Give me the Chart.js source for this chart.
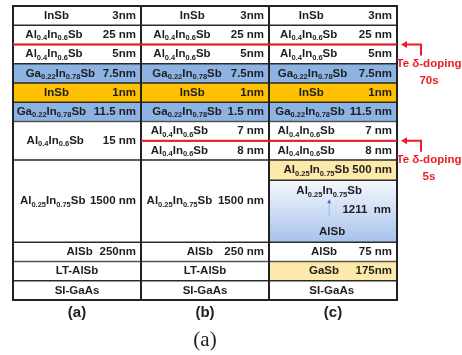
<!DOCTYPE html>
<html>
<head>
<meta charset="utf-8">
<script src="https://cdn.jsdelivr.net/npm/chart.js@4"></script>
<style>
  html, body { margin: 0; background: #fff; }
  #wrap { width: 462px; height: 355px; }
</style>
</head>
<body>
<div id="wrap"><canvas id="stackChart"></canvas></div>
<script>
// samples (columns of the layer stack)
const columns = ["(a)", "(b)", "(c)"];

// layer names, top to bottom ("_{..}" = subscript, "|" = graded top|bottom)
const namesA = ["InSb", "Al_{0.4}In_{0.6}Sb", "Al_{0.4}In_{0.6}Sb", "Ga_{0.22}In_{0.78}Sb", "InSb",
  "Ga_{0.22}In_{0.78}Sb", "Al_{0.4}In_{0.6}Sb", "Al_{0.25}In_{0.75}Sb", "AlSb", "LT-AlSb", "SI-GaAs"];
const namesB = ["InSb", "Al_{0.4}In_{0.6}Sb", "Al_{0.4}In_{0.6}Sb", "Ga_{0.22}In_{0.78}Sb", "InSb",
  "Ga_{0.22}In_{0.78}Sb", "Al_{0.4}In_{0.6}Sb", "Al_{0.4}In_{0.6}Sb", "Al_{0.25}In_{0.75}Sb", "AlSb", "LT-AlSb", "SI-GaAs"];
const namesC = ["InSb", "Al_{0.4}In_{0.6}Sb", "Al_{0.4}In_{0.6}Sb", "Ga_{0.22}In_{0.78}Sb", "InSb",
  "Ga_{0.22}In_{0.78}Sb", "Al_{0.4}In_{0.6}Sb", "Al_{0.4}In_{0.6}Sb", "Al_{0.25}In_{0.75}Sb",
  "Al_{0.25}In_{0.75}Sb|AlSb", "AlSb", "GaSb", "SI-GaAs"];

// layer thickness labels
const thickA = ["3nm", "25 nm", "5nm", "7.5nm", "1nm", "11.5 nm", "15 nm", "1500 nm", "250nm", "", ""];
const thickB = ["3nm", "25 nm", "5nm", "7.5nm", "1nm", "1.5 nm", "7 nm", "8 nm", "1500 nm", "250 nm", "", ""];
const thickC = ["3nm", "25 nm", "5nm", "7.5nm", "1nm", "11.5 nm", "7 nm", "8 nm", "500 nm", "1211  nm", "75 nm", "175nm", ""];

// drawn height of each layer (row units)
const rowsA = [1, 1, 1, 1, 1, 1, 2, 4.27, 1, 1, 1];
const rowsB = [1, 1, 1, 1, 1, 1, 1, 1, 4.27, 1, 1, 1];
const rowsC = [1, 1, 1, 1, 1, 1, 1, 1, 1.05, 3.22, 1, 1, 1];

// Te delta-doping planes: boundary (row units), first column, time
const dopingAt = [2, 7];
const dopingFrom = [0, 1];
const dopingTime = ["70s", "5s"];

// ---- styles ----
const fillA = ["w", "w", "w", "b", "o", "b", "w", "w", "w", "w", "w"];
const fillB = ["w", "w", "w", "b", "o", "b", "w", "w", "w", "w", "w", "w"];
const fillC = ["w", "w", "w", "b", "o", "b", "w", "w", "y", "g", "w", "y", "w"];
const anchorA = [0.34, 0.32, 0.32, 0.37, 0.34, 0.30, 0.33, 0.31, 0.52, 0.5, 0.5];
const anchorB = [0.40, 0.32, 0.32, 0.36, 0.40, 0.36, 0.30, 0.30, 0.30, 0.46, 0.5, 0.5];
const anchorC = [0.33, 0.31, 0.31, 0.34, 0.33, 0.32, 0.29, 0.29, 0.37, 0.47, 0.43, 0.43, 0.49];
const colours = { w: "#ffffff", b: "#8db3e2", o: "#ffc000", y: "#fde9a9" };
const RED = "#ec1c24";
const INK = "#1e1e1e";
const FONT = '"Liberation Sans", Arial, sans-serif';
const MAIN = "bold 11.5px " + FONT;
const SUB = "bold 7.5px " + FONT;

const names = [namesA, namesB, namesC];
const thick = [thickA, thickB, thickC];
const rows = [rowsA, rowsB, rowsC];
const fills = [fillA, fillB, fillC];
const anchors = [anchorA, anchorB, anchorC];

const layers = [];
columns.forEach((col, ci) => {
  let top = 0;
  rows[ci].forEach((h, i) => {
    layers.push({ x: col, y: [top, top + h], name: names[ci][i], thick: thick[ci][i],
      fill: fills[ci][i], anchor: anchors[ci][i] });
    top += h;
  });
});
const total = rowsA.reduce((a, b) => a + b, 0);

function richWidth(ctx, text) {
  const parts = text.split(/_\{([^}]*)\}/);
  let w = 0;
  parts.forEach((p, k) => {
    ctx.font = k % 2 ? SUB : MAIN;
    w += ctx.measureText(p).width;
  });
  return w;
}

function drawRich(ctx, text, x, y, align) {
  const parts = text.split(/_\{([^}]*)\}/);
  const w = richWidth(ctx, text);
  let cx = align === "right" ? x - w : align === "center" ? x - w / 2 : x;
  ctx.textBaseline = "middle";
  ctx.textAlign = "left";
  ctx.fillStyle = INK;
  parts.forEach((p, k) => {
    ctx.font = k % 2 ? SUB : MAIN;
    ctx.fillText(p, cx, k % 2 ? y + 3.5 : y);
    cx += ctx.measureText(p).width;
  });
}

const stackLabels = {
  id: "stackLabels",
  afterDatasetsDraw(chart) {
    const { ctx, chartArea: area, scales: { x: xs, y: ys } } = chart;
    const meta = chart.getDatasetMeta(0);
    ctx.save();

    // layer texts
    meta.data.forEach((el, i) => {
      const L = layers[i];
      const p = el.getProps(["x", "y", "base", "width"], true);
      const left = p.x - p.width / 2, right = p.x + p.width / 2;
      const top = Math.min(p.y, p.base), bot = Math.max(p.y, p.base);
      const mid = (top + bot) / 2;
      const nx = left + p.width * L.anchor;
      if (L.name.includes("|")) {
        const [upper, lower] = L.name.split("|");
        drawRich(ctx, upper, nx, top + 11, "center");
        drawRich(ctx, lower, nx + 3, bot - 10, "center");
        drawRich(ctx, L.thick, right - 6, mid - 1, "right");
        ctx.strokeStyle = "#9fbbe6";
        ctx.lineWidth = 1;
        ctx.beginPath();
        ctx.moveTo(nx, top + 36);
        ctx.lineTo(nx, top + 22);
        ctx.stroke();
        ctx.fillStyle = "#3b73d0";
        ctx.beginPath();
        ctx.moveTo(nx, top + 19);
        ctx.lineTo(nx - 2, top + 23);
        ctx.lineTo(nx + 2, top + 23);
        ctx.fill();
      } else if (L.thick) {
        drawRich(ctx, L.name, nx, mid, "center");
        drawRich(ctx, L.thick, right - 5, mid, "right");
      } else {
        drawRich(ctx, L.name, nx, mid, "center");
      }
    });

    // outer frame and column separators
    ctx.strokeStyle = "#222";
    ctx.lineWidth = 2;
    ctx.strokeRect(area.left, area.top, area.width, area.height);
    const colW = area.width / columns.length;
    for (let c = 1; c < columns.length; c++) {
      ctx.beginPath();
      ctx.moveTo(area.left + colW * c, area.top);
      ctx.lineTo(area.left + colW * c, area.bottom);
      ctx.stroke();
    }

    // doping planes
    dopingAt.forEach((v, k) => {
      const yy = ys.getPixelForValue(v);
      const x0 = xs.getPixelForValue(dopingFrom[k]) - colW / 2;
      ctx.strokeStyle = RED;
      ctx.lineWidth = 2;
      ctx.beginPath();
      ctx.moveTo(x0, yy);
      ctx.lineTo(area.right, yy);
      ctx.stroke();
      const tip = area.right + 4;
      ctx.beginPath();
      ctx.moveTo(tip + 5, yy);
      ctx.lineTo(tip + 20, yy);
      ctx.lineTo(tip + 20, yy + 11);
      ctx.stroke();
      ctx.fillStyle = RED;
      ctx.beginPath();
      ctx.moveTo(tip, yy);
      ctx.lineTo(tip + 6, yy - 3.5);
      ctx.lineTo(tip + 6, yy + 3.5);
      ctx.fill();
      ctx.font = "bold 11.5px " + FONT;
      ctx.textAlign = "center";
      ctx.textBaseline = "middle";
      ctx.fillText("Te δ-doping", area.right + 32, yy + 19);
      ctx.fillText(dopingTime[k], area.right + 32, yy + 36);
    });

    // column captions and figure caption
    ctx.fillStyle = INK;
    ctx.textAlign = "center";
    ctx.textBaseline = "middle";
    ctx.font = "bold 15px " + FONT;
    columns.forEach((c, i) => ctx.fillText(c, xs.getPixelForValue(i), area.bottom + 13));
    ctx.font = '21px "Liberation Serif", "Times New Roman", serif';
    ctx.fillText("(a)", (area.left + area.right) / 2, area.bottom + 40);
    ctx.restore();
  }
};

const ctx = document.getElementById("stackChart").getContext("2d");

const stackChart = new Chart(ctx, {
  type: "bar",
  data: {
    labels: columns,
    datasets: [{
      data: layers,
      backgroundColor: (c) => {
        const L = c.raw;
        if (!L) return colours.w;
        if (L.fill !== "g") return colours[L.fill];
        const ys = c.chart.scales.y;
        if (!ys || !c.chart.chartArea) return colours.b;
        const g = c.chart.ctx.createLinearGradient(0, ys.getPixelForValue(L.y[0]), 0, ys.getPixelForValue(L.y[1]));
        g.addColorStop(0, "#f5f8fd");
        g.addColorStop(1, "#a7c2ea");
        return g;
      },
      borderColor: "#2a2a2a",
      borderWidth: 1,
      borderSkipped: false,
      barPercentage: 1,
      categoryPercentage: 1
    }]
  },
  options: {
    responsive: true,
    maintainAspectRatio: false,
    animation: false,
    layout: { padding: { top: 6, left: 13, right: 65, bottom: 55 } },
    plugins: {
      legend: { display: false },
      tooltip: { enabled: false }
    },
    scales: {
      x: { display: false },
      y: { display: false, reverse: true, min: 0, max: total }
    }
  },
  plugins: [stackLabels]
});
</script>
</body>
</html>
